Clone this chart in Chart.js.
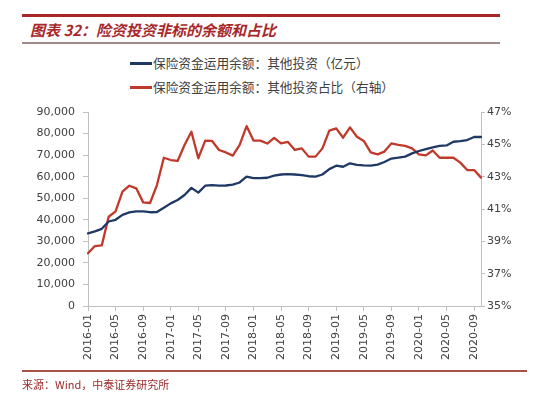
<!DOCTYPE html>
<html>
<head>
<meta charset="utf-8">
<script src="https://cdn.jsdelivr.net/npm/chart.js@4/dist/chart.umd.min.js"></script>
<style>
  html,body{margin:0;padding:0;background:#fff;}
  #wrap{position:relative;width:550px;height:399px;overflow:hidden;background:#fff;}
  #c{position:absolute;left:0;top:0;}
  .rule{position:absolute;}
  .title{position:absolute;left:30px;top:20px;font-family:"Noto Sans CJK SC";font-weight:bold;font-style:italic;font-size:15px;color:#A8282A;white-space:nowrap;line-height:20px;}
  .leg{position:absolute;left:130px;font-family:"Noto Sans CJK SC";font-size:12.7px;color:#404040;white-space:nowrap;line-height:16px;}
  .leg span.sw{display:inline-block;width:22px;height:2.5px;vertical-align:middle;margin-right:1px;position:relative;top:-1px;}
  .src{position:absolute;left:22px;top:376px;font-family:"Noto Sans CJK SC";font-size:11px;color:#9A2A2A;white-space:nowrap;line-height:16px;}
</style>
</head>
<body>
<div id="wrap">
  <div class="rule" style="left:22px;top:14px;width:478px;height:2.5px;background:#A8282A"></div>
  <div class="title">图表 32：险资投资非标的余额和占比</div>
  <div class="rule" style="left:22px;top:42px;width:478px;height:1.5px;background:#A08A88"></div>
  <div class="leg" style="top:55px"><span class="sw" style="background:#1F3864"></span>保险资金运用余额：其他投资（亿元）</div>
  <div class="leg" style="top:79px"><span class="sw" style="background:#C0392B"></span>保险资金运用余额：其他投资占比（右轴）</div>
  <canvas id="c" width="550" height="399"></canvas>
  <div class="rule" style="left:22px;top:370px;width:505px;height:1.5px;background:#A8504A"></div>
  <div class="src">来源：Wind，中泰证券研究所</div>
</div>
<script>
const months = [
 "2016-01","2016-02","2016-03","2016-04","2016-05","2016-06","2016-07","2016-08","2016-09","2016-10","2016-11","2016-12",
 "2017-01","2017-02","2017-03","2017-04","2017-05","2017-06","2017-07","2017-08","2017-09","2017-10","2017-11","2017-12",
 "2018-01","2018-02","2018-03","2018-04","2018-05","2018-06","2018-07","2018-08","2018-09","2018-10","2018-11","2018-12",
 "2019-01","2019-02","2019-03","2019-04","2019-05","2019-06","2019-07","2019-08","2019-09","2019-10","2019-11","2019-12",
 "2020-01","2020-02","2020-03","2020-04","2020-05","2020-06","2020-07","2020-08","2020-09","2020-10"
];
const otherInvestBalance = [
 33700,34600,35800,39200,40000,42300,43400,43900,43900,43500,43600,45600,
 47600,49200,51500,54800,52600,55800,56100,55800,55900,56300,57300,60000,
 59300,59300,59500,60500,61000,61200,61000,60700,60200,60000,61000,63500,
 65100,64600,66200,65500,65200,65100,65600,66800,68400,68800,69300,70800,
 71900,72800,73600,74300,74500,76200,76500,77000,78400,78400
];
const otherInvestShare = [
 38.26,38.71,38.75,40.52,40.85,42.07,42.44,42.28,41.41,41.37,42.48,44.17,
 44.03,43.97,44.96,45.78,44.14,45.23,45.21,44.65,44.50,44.30,44.96,46.13,
 45.23,45.23,45.05,45.40,45.06,45.15,44.65,44.75,44.24,44.24,44.75,45.85,
 45.99,45.41,46.05,45.47,45.21,44.50,44.38,44.55,45.06,44.96,44.90,44.75,
 44.38,44.32,44.62,44.17,44.17,44.17,43.87,43.41,43.41,42.94
];
const seriesNames = ["保险资金运用余额：其他投资（亿元）","保险资金运用余额：其他投资占比（右轴）"];
const leftTicks = {min:0, max:90000, step:10000};
const rightTicks = {min:35, max:47, step:2};
const labelEvery = 4;

const tickFont = {family:"DejaVu Sans", size:11};
const axisGray = '#BFBFBF';

new Chart(document.getElementById('c'), {
  type:'line',
  data:{
    labels: months,
    datasets:[
      {label:seriesNames[0], data:otherInvestBalance, yAxisID:'y', borderColor:'#1F3864', backgroundColor:'#1F3864', borderWidth:2.3, pointRadius:0, tension:0, borderCapStyle:'round', borderJoinStyle:'round'},
      {label:seriesNames[1], data:otherInvestShare, yAxisID:'y1', borderColor:'#C0392B', backgroundColor:'#C0392B', borderWidth:2.3, pointRadius:0, tension:0, borderCapStyle:'round', borderJoinStyle:'round'}
    ]
  },
  options:{
    responsive:false, animation:false, devicePixelRatio:1,
    layout:{padding:{left:0,right:0,top:112,bottom:0}},
    plugins:{legend:{display:false}, tooltip:{enabled:false}},
    scales:{
      x:{
        offset:false,
        grid:{drawOnChartArea:false, drawTicks:true, tickLength:5,
          color:(ctx)=> (ctx.index % labelEvery === 0) ? axisGray : 'rgba(0,0,0,0)'},
        border:{display:true, color:axisGray, width:1},
        ticks:{autoSkip:false, maxRotation:90, minRotation:90, padding:3, color:'#404040', font:tickFont,
          callback:function(v,i){ return i % labelEvery === 0 ? months[i] : ''; }},
        afterFit:(s)=>{ s.height = 93; }
      },
      y:{
        position:'left', min:leftTicks.min, max:leftTicks.max,
        grid:{drawOnChartArea:false, drawTicks:true, tickLength:5, color:axisGray},
        border:{display:true, color:axisGray, width:1},
        ticks:{stepSize:leftTicks.step, padding:8, color:'#404040', font:tickFont,
          callback:(v)=> v.toLocaleString('en-US')},
        afterFit:(s)=>{ s.width = 88; }
      },
      y1:{
        position:'right', min:rightTicks.min, max:rightTicks.max,
        grid:{drawOnChartArea:false, drawTicks:true, tickLength:4, color:axisGray},
        border:{display:true, color:axisGray, width:1},
        ticks:{stepSize:rightTicks.step, padding:2, color:'#404040', font:tickFont,
          callback:(v)=> v + '%'},
        afterFit:(s)=>{ s.width = 69; }
      }
    }
  }
});
</script>
</body>
</html>
